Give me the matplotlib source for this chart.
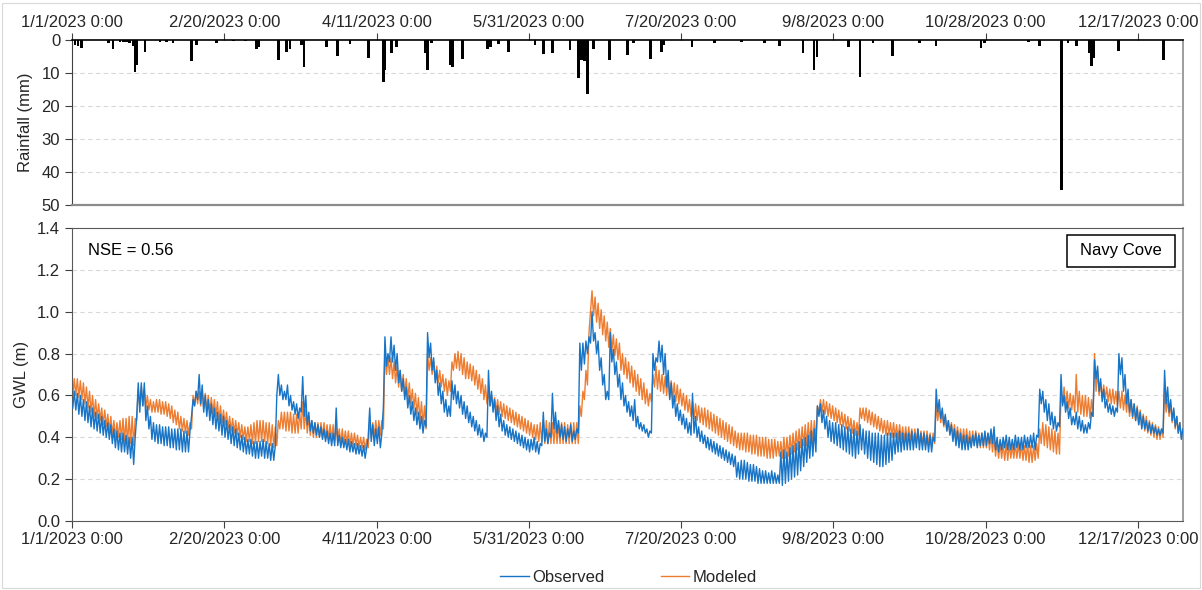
import numpy as np
import matplotlib
matplotlib.use("Agg")
import matplotlib.pyplot as plt
from matplotlib.patches import Rectangle
from matplotlib.lines import Line2D

plt.rcParams['font.family'] = ['Liberation Sans', 'DejaVu Sans']

# x axis: days since 1/1/2023 0:00
tick_days = [0, 50, 100, 150, 200, 250, 300, 350]
tick_labels = ['1/1/2023 0:00', '2/20/2023 0:00', '4/11/2023 0:00', '5/31/2023 0:00',
               '7/20/2023 0:00', '9/8/2023 0:00', '10/28/2023 0:00', '12/17/2023 0:00']

# rainfall events (day of year, mm)
rain_day = [0, 1, 2, 3, 12, 13.5, 15.8, 16.9, 18, 18.8, 20.1, 20.7, 21.3, 24.0, 28.9, 31, 33.2,
            39.3, 41, 47.5, 53, 57, 60.6, 61.2, 67.7, 70.5, 71.6, 75.4, 76.2, 83.6, 87.1, 91.3,
            97.4, 102.2, 102.8, 104.9, 106.6, 116, 116.7, 118, 124.3, 124.9, 128.3, 136.4, 137.5,
            140, 143.3, 152, 154.8, 157.8, 163.5, 166.3, 167.4, 168.3, 169.2, 171.3, 176.5,
            182.5, 184.3, 190, 193.5, 194.2, 203.6, 211, 219.8, 227.5, 232.4, 240, 243.6, 244.6,
            254.9, 258.7, 263, 269.4, 278.3, 283.7, 298.5, 299.7, 314, 317.7, 324.8, 327, 329.8,
            334.2, 334.7, 335.5, 343.5, 358.3]
rain_mm = [1.7, 1.5, 1.7, 2.3, 0.8, 2.6, 0.5, 0.5, 0.5, 1.0, 1.8, 9.8, 7.5, 3.7, 0.5, 0.6, 1.0,
           6.3, 1.5, 1.0, 0.3, 0.3, 2.8, 2.0, 6.0, 3.7, 2.7, 1.5, 8.3, 2.0, 4.7, 1.3,
           5.5, 12.6, 9.0, 3.8, 2.0, 4.0, 9.0, 0.8, 7.5, 8.3, 5.8, 2.8, 2.0,
           1.3, 3.5, 1.5, 4.2, 3.8, 3.0, 11.4, 6.0, 6.5, 16.4, 2.8, 6.0,
           4.5, 0.8, 5.8, 3.5, 1.5, 2.2, 0.8, 0.5, 1.0, 1.8, 4.0, 9.0, 5.0,
           2.0, 11.3, 1.0, 4.8, 0.8, 1.8, 2.5, 1.0, 0.5, 1.7, 45.5, 0.8, 1.7,
           4.0, 8.0, 5.5, 3.2, 6.0]

# observed GWL (m), daily high / low
obs_hi = [.62, .61, .60, .58, .57, .55, .54, .52, .51, .50,
          .48, .47, .46, .44, .43, .42, .42, .41, .40, .40,
          .40, .66, .66, .66, .55, .50, .47, .46, .46, .45,
          .45, .45, .44, .44, .44, .44, .43, .43, .43, .58,
          .62, .70, .65, .60, .58, .56, .54, .52, .51, .50,
          .48, .46, .45, .44, .42, .41, .40, .39, .39, .38,
          .38, .38, .39, .38, .37, .37, .36, .70, .65, .62,
          .65, .60, .57, .56, .54, .69, .60, .52, .48, .47,
          .46, .45, .44, .43, .42, .42, .54, .41, .40, .39,
          .39, .38, .37, .37, .36, .36, .35, .54, .46, .44,
          .45, .42, .88, .80, .88, .84, .80, .72, .68, .64,
          .60, .57, .54, .52, .50, .48, .90, .85, .78, .72,
          .66, .62, .58, .55, .67, .65, .62, .60, .57, .55,
          .52, .50, .48, .46, .44, .42, .72, .62, .58, .55,
          .51, .48, .46, .45, .44, .43, .42, .41, .40, .39,
          .39, .40, .38, .37, .52, .44, .42, .61, .52, .48,
          .46, .45, .44, .46, .43, .44, .85, .85, .86, .88,
          1.00, .90, .86, .78, .70, .62, .90, .82, .76, .70,
          .66, .60, .57, .55, .58, .50, .47, .46, .44, .43,
          .80, .78, .86, .84, .80, .72, .66, .60, .56, .53,
          .51, .49, .47, .61, .50, .45, .43, .41, .40, .39,
          .38, .37, .36, .35, .34, .33, .32, .31, .28, .29,
          .29, .28, .27, .27, .26, .25, .24, .24, .23, .24,
          .23, .22, .33, .34, .33, .35, .36, .37, .38, .39,
          .40, .41, .43, .44, .55, .56, .53, .50, .48, .47,
          .47, .46, .46, .45, .45, .44, .44, .43, .46, .44,
          .43, .43, .42, .42, .42, .41, .41, .42, .42, .42,
          .42, .43, .42, .42, .42, .43, .42, .44, .42, .42,
          .41, .41, .40, .63, .58, .54, .51, .48, .46, .44,
          .43, .42, .41, .41, .40, .41, .42, .41, .42, .43,
          .42, .44, .45, .40, .39, .40, .41, .40, .39, .41,
          .40, .40, .41, .40, .41, .42, .41, .63, .62, .58,
          .56, .52, .50, .47, .70, .60, .57, .54, .50, .52,
          .50, .48, .46, .47, .52, .77, .74, .68, .63, .58,
          .56, .55, .54, .80, .78, .70, .63, .58, .56, .54,
          .52, .50, .48, .47, .46, .45, .44, .44, .72, .64,
          .58, .54, .50, .47, .44]
obs_lo = [.54, .53, .51, .50, .48, .47, .45, .44, .43, .42,
          .41, .40, .39, .37, .35, .34, .33, .33, .32, .30,
          .27, .50, .52, .55, .48, .44, .39, .38, .37, .37,
          .36, .36, .35, .35, .34, .34, .33, .33, .33, .50,
          .55, .58, .56, .52, .50, .48, .46, .44, .43, .41,
          .40, .39, .37, .36, .35, .34, .33, .32, .32, .31,
          .30, .30, .31, .30, .30, .29, .29, .60, .60, .58,
          .58, .55, .53, .51, .49, .52, .50, .46, .43, .42,
          .41, .40, .39, .38, .37, .36, .36, .36, .35, .35,
          .34, .33, .33, .32, .32, .31, .30, .40, .38, .36,
          .37, .35, .55, .74, .76, .76, .72, .66, .62, .58,
          .54, .51, .48, .46, .44, .42, .45, .78, .72, .66,
          .60, .56, .52, .50, .50, .58, .56, .54, .51, .49,
          .47, .45, .43, .41, .40, .38, .40, .55, .52, .48,
          .45, .43, .41, .40, .39, .38, .37, .36, .35, .34,
          .33, .34, .33, .32, .36, .38, .37, .40, .44, .42,
          .40, .39, .38, .40, .38, .39, .42, .72, .75, .80,
          .85, .86, .80, .72, .65, .58, .58, .76, .70, .64,
          .58, .55, .52, .50, .48, .45, .44, .43, .42, .40,
          .42, .72, .76, .76, .70, .64, .58, .54, .50, .48,
          .46, .44, .42, .41, .42, .40, .38, .37, .35, .34,
          .33, .32, .31, .30, .29, .28, .27, .26, .21, .20,
          .20, .20, .19, .19, .19, .18, .18, .18, .18, .18,
          .18, .18, .18, .17, .18, .19, .20, .21, .22, .24,
          .26, .28, .30, .31, .33, .50, .47, .44, .40, .38,
          .37, .36, .35, .34, .33, .32, .31, .30, .32, .34,
          .32, .30, .29, .28, .27, .26, .26, .27, .28, .29,
          .32, .33, .33, .34, .34, .34, .34, .35, .34, .34,
          .34, .33, .33, .38, .52, .49, .46, .43, .41, .38,
          .36, .35, .34, .34, .34, .35, .36, .35, .36, .36,
          .36, .37, .37, .34, .33, .34, .35, .34, .34, .34,
          .35, .34, .34, .35, .35, .35, .34, .40, .56, .52,
          .48, .46, .44, .43, .45, .55, .52, .49, .46, .46,
          .44, .43, .42, .42, .44, .50, .68, .62, .57, .54,
          .52, .51, .50, .52, .70, .62, .56, .52, .50, .48,
          .46, .44, .44, .43, .42, .42, .41, .41, .42, .56,
          .52, .48, .45, .42, .39]

# modeled GWL (m), daily high / low
mod_hi = [.68, .68, .67, .66, .64, .62, .60, .58, .56, .54,
          .53, .51, .50, .48, .47, .48, .49, .49, .50, .50,
          .49, .63, .64, .63, .60, .58, .57, .58, .58, .57,
          .57, .56, .55, .53, .52, .50, .49, .48, .47, .60,
          .62, .62, .62, .61, .60, .59, .58, .57, .55, .53,
          .52, .50, .49, .48, .47, .46, .45, .45, .46, .47,
          .48, .48, .48, .47, .47, .46, .45, .48, .52, .52,
          .52, .52, .51, .51, .52, .57, .53, .50, .48, .47,
          .47, .47, .47, .46, .46, .46, .45, .44, .44, .43,
          .43, .42, .42, .41, .40, .40, .39, .48, .47, .48,
          .48, .48, .82, .78, .78, .76, .74, .72, .70, .68,
          .66, .63, .61, .59, .57, .55, .80, .78, .76, .74,
          .72, .70, .68, .67, .76, .80, .81, .80, .78, .76,
          .75, .74, .72, .70, .68, .65, .62, .60, .59, .58,
          .57, .56, .55, .54, .53, .52, .51, .50, .49, .48,
          .47, .46, .46, .47, .48, .48, .47, .47, .48, .47,
          .47, .47, .46, .47, .47, .47, .55, .62, .72, .90,
          1.10, 1.07, 1.04, 1.01, .98, .95, .92, .89, .87, .85,
          .80, .78, .76, .74, .72, .70, .68, .66, .63, .61,
          .70, .74, .72, .70, .69, .68, .67, .66, .65, .63,
          .61, .60, .58, .57, .56, .55, .54, .54, .53, .52,
          .51, .50, .49, .48, .47, .46, .45, .43, .42, .42,
          .42, .42, .41, .41, .41, .40, .40, .40, .39, .39,
          .39, .38, .38, .40, .40, .41, .42, .43, .44, .45,
          .46, .47, .48, .48, .55, .58, .58, .57, .56, .55,
          .54, .53, .52, .51, .50, .49, .48, .47, .54, .54,
          .54, .53, .52, .51, .50, .49, .48, .48, .47, .47,
          .46, .46, .45, .45, .45, .44, .44, .44, .43, .43,
          .43, .42, .42, .56, .54, .52, .50, .48, .47, .46,
          .45, .44, .44, .44, .43, .43, .43, .42, .42, .42,
          .42, .41, .40, .38, .37, .37, .37, .37, .36, .37,
          .37, .37, .36, .37, .36, .36, .37, .44, .47, .46,
          .45, .44, .43, .42, .62, .64, .62, .61, .60, .70,
          .62, .60, .60, .59, .58, .80, .72, .66, .65, .64,
          .63, .63, .62, .62, .62, .60, .59, .58, .56, .55,
          .53, .51, .50, .48, .47, .46, .45, .44, .64, .58,
          .56, .53, .50, .47, .44]
mod_lo = [.60, .60, .59, .58, .56, .54, .52, .50, .49, .48,
          .46, .45, .43, .41, .40, .40, .39, .38, .37, .37,
          .36, .48, .55, .55, .54, .53, .52, .52, .52, .51,
          .51, .50, .49, .47, .46, .44, .43, .42, .41, .44,
          .55, .56, .55, .54, .53, .52, .51, .50, .48, .47,
          .46, .44, .43, .42, .41, .40, .39, .38, .38, .37,
          .37, .38, .38, .38, .37, .36, .35, .36, .44, .44,
          .43, .43, .42, .42, .42, .44, .44, .42, .41, .40,
          .40, .40, .40, .39, .39, .39, .38, .38, .37, .37,
          .37, .36, .36, .36, .35, .35, .34, .35, .40, .40,
          .40, .41, .44, .70, .70, .68, .66, .64, .62, .60,
          .58, .56, .54, .51, .48, .46, .44, .72, .70, .68,
          .66, .64, .62, .60, .62, .72, .73, .72, .70, .68,
          .68, .67, .65, .63, .61, .58, .56, .55, .54, .52,
          .51, .50, .49, .48, .47, .46, .45, .44, .43, .42,
          .41, .40, .39, .38, .38, .37, .37, .37, .37, .37,
          .37, .37, .37, .37, .37, .37, .37, .50, .58, .65,
          1.00, .98, .95, .92, .89, .86, .83, .81, .79, .77,
          .72, .70, .68, .66, .64, .62, .60, .58, .56, .55,
          .57, .64, .63, .62, .61, .60, .59, .58, .57, .56,
          .55, .53, .52, .50, .49, .48, .47, .46, .45, .44,
          .43, .42, .41, .40, .39, .38, .37, .36, .35, .34,
          .34, .33, .33, .32, .32, .31, .31, .31, .30, .30,
          .30, .31, .31, .30, .30, .31, .32, .33, .34, .35,
          .36, .36, .37, .37, .38, .52, .52, .51, .50, .49,
          .48, .47, .46, .45, .44, .43, .42, .41, .41, .49,
          .48, .47, .46, .45, .44, .43, .42, .41, .41, .40,
          .40, .39, .39, .38, .38, .38, .37, .37, .37, .36,
          .36, .36, .36, .37, .48, .47, .45, .43, .42, .40,
          .39, .38, .37, .37, .37, .36, .36, .36, .35, .35,
          .35, .34, .33, .31, .30, .30, .29, .29, .30, .30,
          .30, .30, .29, .29, .28, .28, .29, .30, .37, .36,
          .35, .34, .33, .32, .32, .56, .55, .54, .53, .52,
          .52, .51, .50, .50, .49, .50, .62, .60, .59, .58,
          .57, .56, .56, .55, .54, .53, .52, .50, .49, .48,
          .46, .45, .43, .42, .41, .40, .39, .39, .40, .52,
          .50, .47, .44, .42, .40]


def zigzag(lo, hi):
    # one low and one high reading per day
    days = np.arange(len(lo))
    t = np.column_stack([days + 0.25, days + 0.75]).ravel()
    v = np.column_stack([lo, hi]).ravel()
    return t, v


BLUE = '#1874C6'
ORANGE = '#ED7D31'
GRID = '#d9d9d9'
TXT = '#262626'
FS = 12
XMAX = 364.8

fig = plt.figure(figsize=(12.02, 5.90), dpi=100)
fig.patches.append(Rectangle((0.002, 0.004), 0.996, 0.991, transform=fig.transFigure,
                             fill=False, edgecolor='#d9d9d9', lw=0.8))

# ---- rainfall panel
ax1 = fig.add_axes([0.0599, 0.6525, 0.9243, 0.2797])
ax1.bar(rain_day, rain_mm, width=0.9, color='black', align='center')
ax1.set_ylim(50, 0)
ax1.set_xlim(0, XMAX)
ax1.set_yticks([0, 10, 20, 30, 40, 50])
for y in [10, 20, 30, 40]:
    ax1.axhline(y, color=GRID, lw=0.8, ls=(0, (4, 3)), zorder=0)
ax1.xaxis.tick_top()
ax1.set_xticks(tick_days)
ax1.set_xticklabels(tick_labels)
ax1.set_ylabel('Rainfall (mm)', fontsize=FS, color=TXT, labelpad=6)
ax1.tick_params(axis='both', labelsize=FS, labelcolor=TXT, colors='#404040', length=5, width=0.8)
ax1.tick_params(axis='x', pad=2)
ax1.spines['top'].set_color('black')
ax1.spines['top'].set_linewidth(1.2)
ax1.spines['left'].set_color('#404040')
ax1.spines['bottom'].set_color('#8c8c8c')
ax1.spines['bottom'].set_linewidth(1.6)
ax1.spines['right'].set_color('#8c8c8c')
ax1.spines['right'].set_linewidth(1.2)

# ---- groundwater panel
ax2 = fig.add_axes([0.0599, 0.1169, 0.9243, 0.4967])
t_o, v_o = zigzag(obs_lo, obs_hi)
t_m, v_m = zigzag(mod_lo, mod_hi)
ax2.plot(t_o, v_o, color=BLUE, lw=1.0, zorder=3)
ax2.plot(t_m, v_m, color=ORANGE, lw=1.0, zorder=2)
ax2.set_ylim(0, 1.4)
ax2.set_xlim(0, XMAX)
ax2.set_yticks(np.arange(0, 1.41, 0.2))
ax2.set_yticklabels([f'{y:.1f}' for y in np.arange(0, 1.41, 0.2)])
for y in [0.2, 0.4, 0.6, 0.8, 1.0, 1.2]:
    ax2.axhline(y, color=GRID, lw=0.8, ls=(0, (4, 3)), zorder=0)
ax2.set_xticks(tick_days)
ax2.set_xticklabels(tick_labels)
ax2.set_ylabel('GWL (m)', fontsize=FS, color=TXT, labelpad=6)
ax2.tick_params(axis='both', labelsize=FS, labelcolor=TXT, colors='#404040', length=5, width=0.8)
ax2.tick_params(axis='x', pad=3)
for s in ['left', 'bottom', 'top']:
    ax2.spines[s].set_color('#595959')
ax2.spines['right'].set_color('#8c8c8c')
ax2.spines['right'].set_linewidth(1.2)

ax2.text(0.0144, 0.9215, 'NSE = 0.56', transform=ax2.transAxes, fontsize=FS,
         va='center', ha='left', color='black')
ax2.add_patch(Rectangle((0.8956, 0.867), 0.0972, 0.109, transform=ax2.transAxes,
                        fc='white', ec='black', lw=1.1, zorder=5))
ax2.text(0.9442, 0.9215, 'Navy Cove', transform=ax2.transAxes, fontsize=FS,
         va='center', ha='center', color='black', zorder=6)

handles = [Line2D([], [], color=BLUE, lw=1.0), Line2D([], [], color=ORANGE, lw=1.0)]
fig.legend(handles, ['Observed', 'Modeled'], loc='center', bbox_to_anchor=(0.523, 0.022),
           ncol=2, frameon=False, fontsize=FS, handlelength=1.7, handletextpad=0.2,
           columnspacing=3.4, labelcolor=TXT)

fig.savefig('out.png', dpi=100)
